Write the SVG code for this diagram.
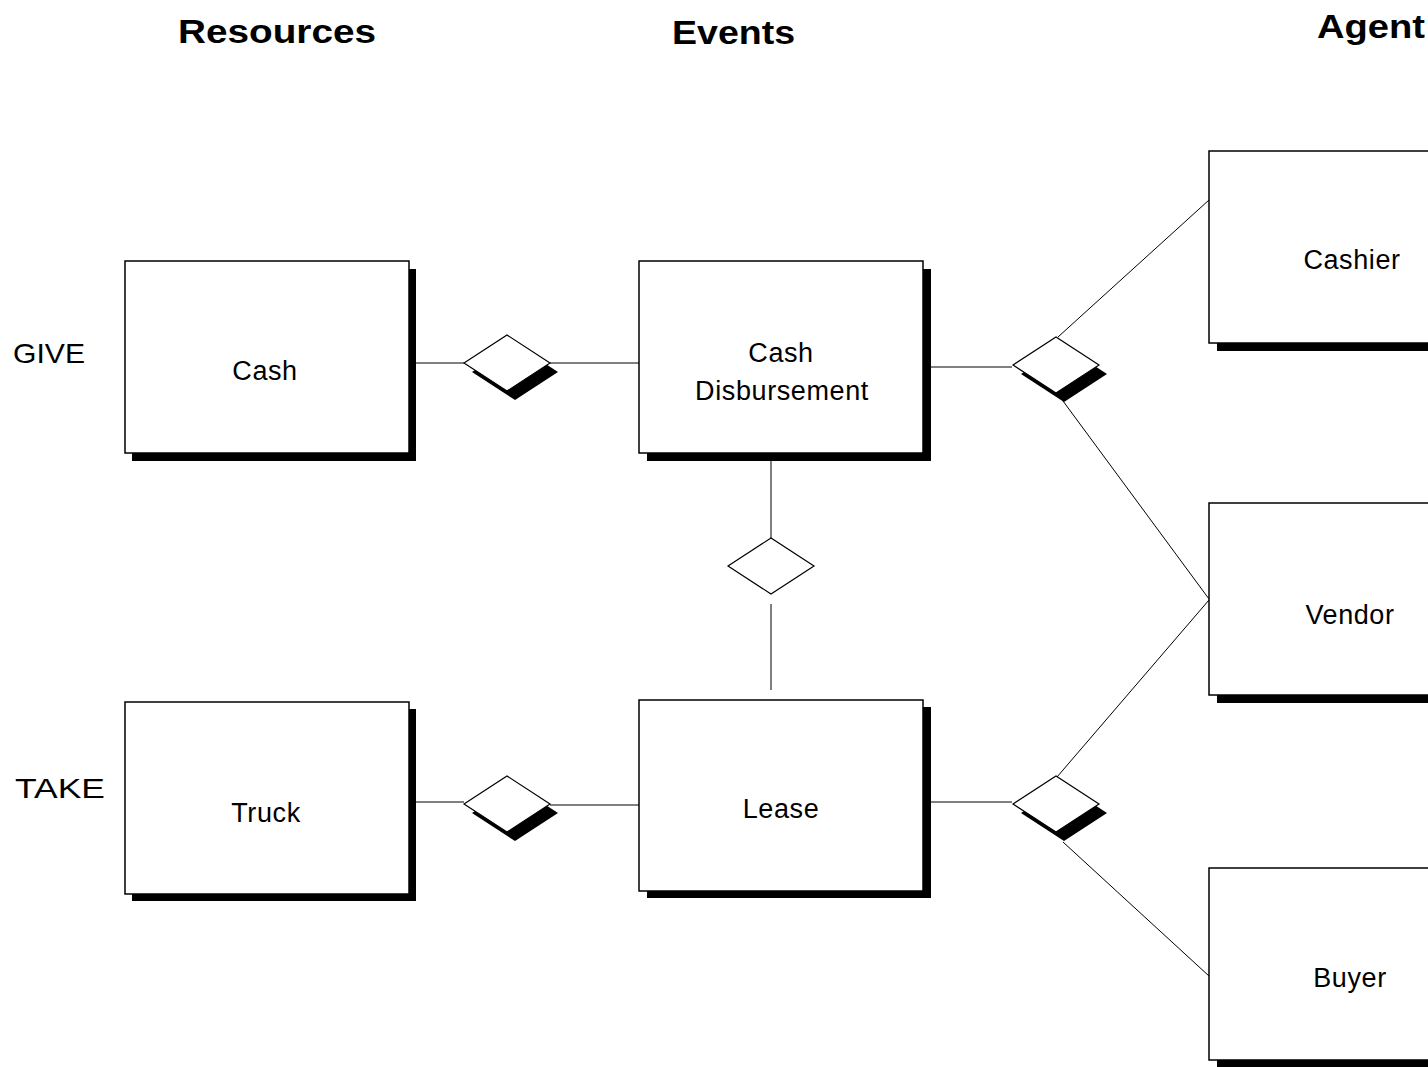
<svg xmlns="http://www.w3.org/2000/svg" width="1428" height="1067" viewBox="0 0 1428 1067">
<defs>
<style>
.box{fill:#fff;stroke:#000;stroke-width:1.5}
.shadow{fill:#000}
.dia{fill:#fff;stroke:#000;stroke-width:1.2}
.ln{fill:none;stroke:#000;stroke-width:1}
.lbl{font-family:"Liberation Sans",Arial,sans-serif;font-size:27px;letter-spacing:0.6px;fill:#000;text-anchor:middle}
.hdr{font-family:"Liberation Sans",Arial,sans-serif;font-size:34px;font-weight:bold;fill:#000}
.side{font-family:"Liberation Sans",Arial,sans-serif;font-size:28px;fill:#000}
</style>
<polygon id="dshape" points="-43,0 0,-28 43,0 0,28"/>
</defs>
<rect width="1428" height="1067" fill="#fff"/>

<g id="headers">
<text class="hdr" x="178" y="43" textLength="198" lengthAdjust="spacingAndGlyphs">Resources</text>
<text class="hdr" x="672" y="44" textLength="123" lengthAdjust="spacingAndGlyphs">Events</text>
<text class="hdr" x="1317" y="38" textLength="108" lengthAdjust="spacingAndGlyphs">Agent</text>
<text class="side" x="13" y="363" textLength="72" lengthAdjust="spacingAndGlyphs">GIVE</text>
<text class="side" x="15" y="798" textLength="90" lengthAdjust="spacingAndGlyphs">TAKE</text>
</g>

<g id="connectors">
<line class="ln" x1="416" y1="363" x2="464" y2="363"/>
<line class="ln" x1="550" y1="363" x2="639" y2="363"/>
<line class="ln" x1="931" y1="367" x2="1012" y2="367"/>
<line class="ln" x1="1058" y1="337" x2="1209" y2="200"/>
<line class="ln" x1="1063" y1="401" x2="1209" y2="599"/>
<line class="ln" x1="771" y1="460" x2="771" y2="539"/>
<line class="ln" x1="771" y1="604" x2="771" y2="690"/>
<line class="ln" x1="416" y1="802" x2="464" y2="802"/>
<line class="ln" x1="550" y1="805" x2="639" y2="805"/>
<line class="ln" x1="931" y1="802" x2="1012" y2="802"/>
<line class="ln" x1="1057" y1="777" x2="1209" y2="600"/>
<line class="ln" x1="1063" y1="842" x2="1209" y2="976"/>
</g>

<g id="rel-cash-cd">
<use href="#dshape" class="shadow" x="515" y="372"/>
<use href="#dshape" class="dia" x="507" y="363"/>
</g>
<g id="rel-cd-agents">
<use href="#dshape" class="shadow" x="1064" y="374"/>
<use href="#dshape" class="dia" x="1056" y="365"/>
</g>
<g id="rel-cd-lease">
<use href="#dshape" class="dia" x="771" y="566"/>
</g>
<g id="rel-truck-lease">
<use href="#dshape" class="shadow" x="515" y="813"/>
<use href="#dshape" class="dia" x="507" y="804"/>
</g>
<g id="rel-lease-agents">
<use href="#dshape" class="shadow" x="1064" y="813"/>
<use href="#dshape" class="dia" x="1056" y="804"/>
</g>

<g id="node-cash">
<rect class="shadow" x="132" y="269" width="284" height="192"/>
<rect class="box" x="125" y="261" width="284" height="192"/>
<text class="lbl" x="265" y="380">Cash</text>
</g>
<g id="node-cash-disbursement">
<rect class="shadow" x="647" y="269" width="284" height="192"/>
<rect class="box" x="639" y="261" width="284" height="192"/>
<text class="lbl" x="781" y="362">Cash</text>
<text class="lbl" x="782" y="400">Disbursement</text>
</g>
<g id="node-truck">
<rect class="shadow" x="132" y="709" width="284" height="192"/>
<rect class="box" x="125" y="702" width="284" height="192"/>
<text class="lbl" x="266" y="822">Truck</text>
</g>
<g id="node-lease">
<rect class="shadow" x="647" y="707" width="284" height="191"/>
<rect class="box" x="639" y="700" width="284" height="191"/>
<text class="lbl" x="781" y="818">Lease</text>
</g>
<g id="node-cashier">
<rect class="shadow" x="1217" y="159" width="300" height="192"/>
<rect class="box" x="1209" y="151" width="300" height="192"/>
<text class="lbl" x="1352" y="269">Cashier</text>
</g>
<g id="node-vendor">
<rect class="shadow" x="1217" y="511" width="300" height="192"/>
<rect class="box" x="1209" y="503" width="300" height="192"/>
<text class="lbl" x="1350" y="624">Vendor</text>
</g>
<g id="node-buyer">
<rect class="shadow" x="1217" y="876" width="300" height="192"/>
<rect class="box" x="1209" y="868" width="300" height="192"/>
<text class="lbl" x="1350" y="987">Buyer</text>
</g>
</svg>
